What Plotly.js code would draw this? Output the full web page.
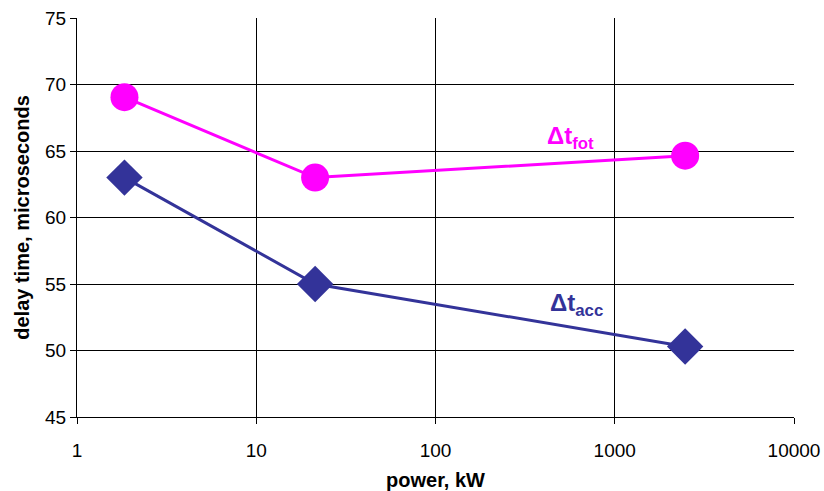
<!DOCTYPE html>
<html>
<head>
<meta charset="utf-8">
<script src="https://cdn.plot.ly/plotly-3.0.1.min.js"></script>
<style>html,body{margin:0;padding:0;background:#fff;}#chart{width:824px;height:491px;}</style>
</head>
<body>
<div id="chart"></div>
<script>
const powerKW = [1.84, 21.3, 2470];
const delayFot = [69.05, 63.0, 64.65];
const delayAcc = [63.0, 55.0, 50.3];
const xTicks = [1, 10, 100, 1000, 10000];
const xTickLabels = ['1', '10', '100', '1000', '10000'];
const yTicks = [45, 50, 55, 60, 65, 70, 75];

const traces = [
  {
    x: powerKW, y: delayFot, type: 'scatter', mode: 'lines+markers',
    line: {color: '#FF00FF', width: 3},
    marker: {symbol: 'circle', size: 28, color: '#FF00FF'},
    name: 'fot', showlegend: false, cliponaxis: false
  },
  {
    x: powerKW, y: delayAcc, type: 'scatter', mode: 'lines+markers',
    line: {color: '#333399', width: 3},
    marker: {symbol: 'diamond', size: 28, color: '#333399'},
    name: 'acc', showlegend: false, cliponaxis: false
  }
];

const layout = {
  width: 824, height: 491,
  margin: {l: 77, r: 30, t: 18, b: 74},
  paper_bgcolor: '#fff', plot_bgcolor: '#fff',
  font: {family: 'Liberation Sans, Arial, sans-serif', color: '#000', size: 20},
  xaxis: {
    type: 'log', range: [0, 4],
    tickvals: xTicks, ticktext: xTickLabels,
    showgrid: true, gridcolor: '#000', gridwidth: 1,
    ticks: 'outside', ticklen: 6, tickcolor: '#000',
    showline: true, linecolor: '#000', linewidth: 1,
    zeroline: false,
    tickfont: {size: 19},
    ticklabelstandoff: 10,
    title: {text: '<b>power, kW</b>', font: {size: 20}, standoff: 16}
  },
  yaxis: {
    range: [45, 75], tickvals: yTicks,
    showgrid: true, gridcolor: '#000', gridwidth: 1,
    ticks: 'outside', ticklen: 6, tickcolor: '#000',
    showline: true, linecolor: '#000', linewidth: 1,
    zeroline: false,
    tickfont: {size: 19},
    title: {text: '<b>delay time, microseconds</b>', font: {size: 20}, standoff: 10}
  },
  annotations: [
    {xref: 'paper', yref: 'paper', x: 0.688, y: 0.701, xanchor: 'center', yanchor: 'middle',
     showarrow: false,
     text: '<b>Δt<sub>fot</sub></b>', font: {size: 24, color: '#FF00FF'}},
    {xref: 'paper', yref: 'paper', x: 0.697, y: 0.282, xanchor: 'center', yanchor: 'middle',
     showarrow: false,
     text: '<b>Δt<sub>acc</sub></b>', font: {size: 24, color: '#333399'}}
  ]
};

Plotly.newPlot('chart', traces, layout, {displayModeBar: false, staticPlot: true});
</script>
</body>
</html>
